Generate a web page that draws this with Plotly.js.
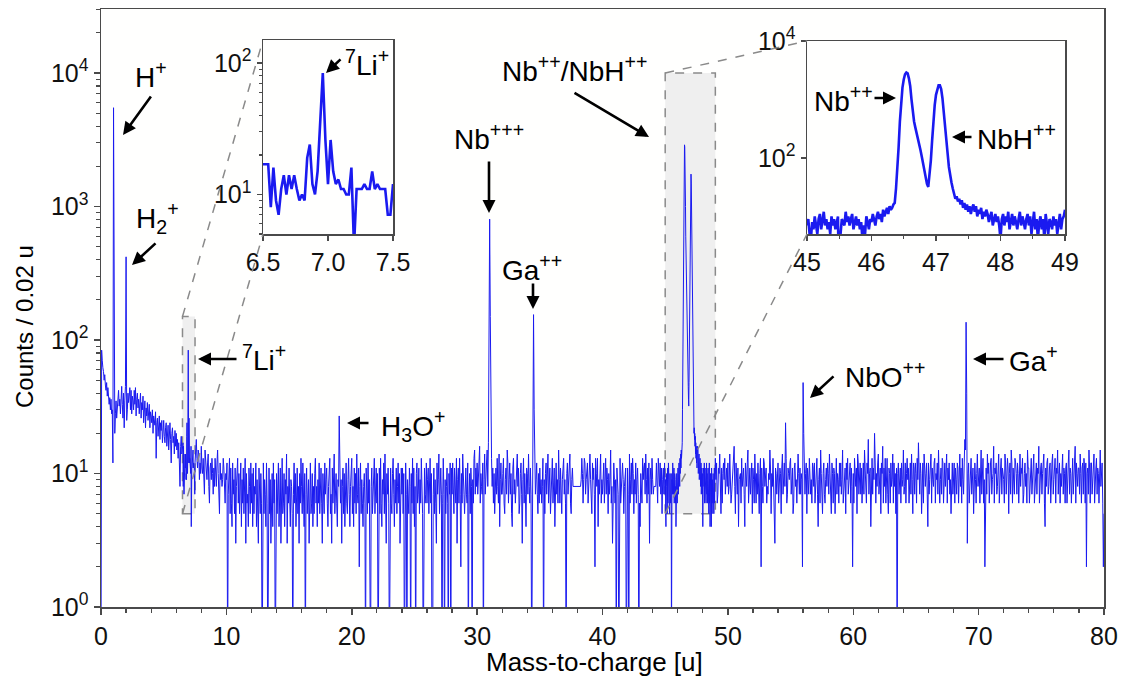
<!DOCTYPE html>
<html>
<head>
<meta charset="utf-8">
<script src="https://cdn.plot.ly/plotly-3.0.1.min.js"></script>
<style>html,body{margin:0;padding:0;background:#fff;}#chart{width:1127px;height:680px;}</style>
</head>
<body>
<div id="chart"></div>
<script>
// ---------------- DATA (counts per bin) ----------------
// Segment A: rows of 0.05-u bins, row k starts at m/z = k (0 .. 6.45)
const segARows = [
  [0, 84, 70, 62, 58, 50, 55, 46, 42, 48, 38, 44, 40, 33, 37, 30, 36, 28, 30, 12],
  [5500, 24, 20, 28, 35, 26, 30, 38, 42, 32, 36, 28, 38, 45, 33, 26, 40, 22, 35, 45],
  [420, 25, 30, 40, 34, 38, 44, 30, 42, 28, 38, 35, 30, 42, 33, 44, 27, 36, 40, 31],
  [36, 28, 33, 40, 26, 34, 30, 38, 24, 31, 35, 22, 31, 27, 34, 25, 30, 33, 22, 29],
  [27, 24, 30, 20, 27, 25, 23, 29, 13, 24, 26, 19, 23, 27, 18, 24, 21, 25, 17, 23],
  [25, 19, 17, 22, 24, 16, 20, 23, 15, 21, 24, 18, 12, 20, 22, 17, 19, 14, 21, 16],
  [20, 15, 18, 13, 17, 12, 8, 16, 19, 14]
];
// Li region (inset 1): m/z 6.50 - 7.50, 0.02-u bins
const liStart = 6.5, liStep = 0.02;
const liCounts = [
  17, 17, 17, 8, 16, 9, 7, 11, 14, 10,
  14, 11, 14, 11, 9, 10, 9, 19, 24, 12,
  10, 15, 35, 84, 26, 12, 26, 15, 12, 13,
  11, 11, 10, 10, 16, 4, 11, 11, 11, 12,
  11, 11, 15, 11, 12, 11, 11, 11, 7, 7,
  12
];
// Segment B: head = m/z 7.60 - 7.95, then rows starting at m/z 8, 9, ... 44 (0.05-u bins)
const segBHead = [18, 13, 11, 15, 14, 9, 12, 10];
const segBRows = [
  [16, 11, 10, 13, 8, 7, 15, 12, 10, 9, 12, 14, 8, 6, 11, 12, 9, 13, 10, 7],
  [11, 8, 13, 9, 8, 12, 15, 10, 7, 5, 12, 9, 10, 8, 9, 13, 11, 7, 6, 10],
  [9, 12, 0, 7, 10, 13, 5, 11, 6, 4, 12, 7, 9, 5, 11, 3, 8, 10, 13, 6],
  [10, 5, 7, 12, 4, 9, 6, 11, 5, 8, 13, 3, 10, 6, 7, 4, 11, 8, 5, 12],
  [6, 10, 4, 11, 5, 8, 7, 12, 4, 9, 6, 3, 11, 7, 5, 10, 6, 0, 8, 12],
  [5, 9, 7, 4, 12, 6, 0, 8, 11, 5, 9, 3, 7, 10, 4, 12, 6, 9, 0, 7],
  [10, 5, 8, 12, 4, 7, 11, 3, 8, 13, 5, 6, 10, 4, 9, 7, 14, 3, 8, 6],
  [11, 6, 4, 9, 8, 5, 0, 7, 12, 6, 10, 4, 7, 11, 5, 8, 3, 10, 6, 13],
  [8, 5, 12, 6, 4, 10, 0, 7, 11, 5, 8, 9, 3, 7, 12, 5, 6, 10, 4, 8],
  [5, 10, 13, 6, 8, 4, 9, 6, 12, 5, 7, 11, 6, 3, 10, 8, 5, 12, 7, 9],
  [11, 6, 4, 8, 10, 13, 5, 7, 3, 11, 6, 9, 14, 5, 7, 10, 6, 4, 9, 8],
  [27, 15, 6, 9, 3, 8, 11, 5, 10, 4, 7, 12, 6, 5, 9, 13, 7, 4, 8, 10],
  [13, 5, 8, 4, 11, 6, 10, 5, 14, 7, 6, 11, 2, 8, 12, 5, 9, 6, 4, 8],
  [10, 6, 0, 11, 7, 5, 12, 6, 9, 4, 0, 8, 11, 5, 7, 10, 13, 5, 8, 11],
  [6, 10, 0, 8, 11, 5, 13, 6, 4, 9, 7, 12, 5, 14, 6, 3, 10, 7, 11, 6],
  [0, 7, 11, 6, 5, 10, 13, 7, 4, 9, 6, 11, 5, 8, 12, 6, 10, 3, 7, 11],
  [7, 11, 5, 10, 0, 6, 12, 7, 0, 9, 6, 5, 11, 8, 0, 10, 6, 13, 5, 11],
  [4, 8, 0, 10, 12, 6, 7, 11, 5, 9, 6, 13, 7, 5, 0, 10, 11, 6, 7, 12],
  [6, 9, 11, 5, 7, 13, 6, 10, 0, 0, 7, 11, 5, 9, 6, 3, 12, 7, 9, 14],
  [5, 10, 11, 7, 0, 6, 13, 7, 0, 9, 5, 8, 11, 6, 0, 10, 7, 12, 0, 11],
  [7, 12, 9, 5, 11, 7, 6, 13, 3, 9, 11, 6, 13, 7, 2, 10, 6, 14, 11, 7],
  [5, 9, 11, 7, 6, 12, 0, 7, 10, 5, 11, 8, 0, 9, 6, 13, 15, 7, 11, 8],
  [12, 7, 9, 11, 16, 6, 10, 8, 7, 12, 0, 9, 14, 7, 11, 12, 15, 8, 17, 350],
  [805, 150, 25, 13, 8, 11, 6, 10, 5, 9, 11, 7, 13, 8, 6, 14, 4, 9, 12, 7],
  [7, 10, 13, 6, 5, 9, 11, 7, 15, 12, 6, 9, 12, 7, 10, 5, 4, 11, 13, 7],
  [9, 6, 8, 12, 14, 8, 11, 5, 6, 10, 12, 7, 3, 9, 13, 6, 10, 7, 4, 11],
  [10, 7, 14, 8, 6, 11, 7, 0, 9, 20, 155, 30, 13, 7, 9, 12, 7, 5, 10, 6],
  [11, 7, 9, 6, 8, 13, 0, 9, 5, 10, 12, 7, 9, 14, 6, 9, 11, 5, 8, 10],
  [13, 6, 8, 11, 4, 9, 12, 7, 9, 6, 15, 9, 6, 11, 7, 5, 9, 12, 13, 7],
  [9, 6, 0, 10, 12, 7, 9, 13, 14, 6, 5, 9, 11, 8, 8, 8, 8, 8, 8, 8],
  [8, 8, 8, 8, 8, 8, 9, 13, 10, 6, 9, 13, 12, 7, 9, 11, 12, 6, 8, 11],
  [14, 9, 7, 5, 12, 9, 11, 7, 2, 13, 10, 8, 13, 4, 9, 7, 12, 14, 6, 9],
  [7, 10, 12, 6, 9, 13, 7, 11, 9, 5, 10, 7, 9, 15, 6, 8, 3, 11, 12, 9],
  [6, 9, 0, 11, 9, 7, 0, 12, 13, 6, 8, 11, 12, 9, 5, 8, 10, 11, 0, 7],
  [11, 7, 0, 14, 6, 9, 12, 7, 13, 10, 5, 9, 7, 12, 6, 9, 11, 7, 0, 6],
  [4, 10, 7, 6, 13, 9, 11, 12, 7, 14, 9, 6, 11, 7, 12, 3, 9, 11, 7, 13],
  [9, 7, 8, 8, 8, 8, 12, 9, 6, 13, 10, 8, 12, 7, 11, 5, 9, 11, 7, 12]
];
// Nb++ / NbH++ region (inset 2): m/z 45.00 - 49.00, 0.02-u bins
const nbStart = 45.0, nbStep = 0.02;
const nbCounts = [
  7, 9, 5, 4, 8, 6, 10, 7, 5, 9,
  11, 6, 8, 12, 7, 9, 6, 8, 5, 10,
  7, 9, 6, 8, 10, 0, 5, 9, 8, 7,
  12, 8, 10, 7, 9, 11, 6, 8, 10, 7,
  9, 6, 8, 4, 7, 5, 10, 8, 6, 9,
  8, 11, 9, 7, 10, 12, 9, 11, 8, 13,
  10, 12, 14, 11, 15, 13, 14, 16, 17, 30,
  60, 150, 420, 900, 1600, 2200, 2700, 2900, 2800, 2300,
  1700, 1000, 600, 420, 330, 270, 210, 165, 135, 105,
  82, 62, 45, 36, 32, 48, 90, 200, 420, 800,
  1200, 1550, 1750, 1750, 1500, 1050, 650, 380, 220, 120,
  70, 48, 38, 30, 24, 20, 22, 18, 20, 16,
  19, 14, 17, 13, 16, 12, 15, 11, 14, 16,
  12, 15, 10, 13, 11, 14, 9, 12, 10, 13,
  11, 8, 10, 12, 7, 9, 11, 8, 10, 7,
  4, 9, 11, 7, 10, 8, 12, 6, 9, 11,
  7, 10, 8, 6, 9, 12, 7, 10, 8, 6,
  9, 11, 7, 10, 5, 8, 12, 6, 9, 4,
  8, 10, 6, 9, 4, 11, 7, 5, 9, 8,
  6, 10, 7, 9, 5, 8, 11, 6, 9, 10,
  13
];
// Segment C: head = m/z 49.05 - 49.95, rows starting at m/z 50 ... 79, tail at m/z 80
const segCHead = [9, 12, 6, 7, 11, 10, 14, 9, 5, 11, 6, 10, 12, 9, 13, 7, 10, 11, 8];
const segCRows = [
  [12, 7, 8, 14, 10, 6, 7, 9, 11, 12, 16, 8, 5, 12, 10, 7, 11, 4, 9, 10],
  [10, 6, 13, 8, 9, 11, 7, 4, 12, 9, 8, 12, 15, 6, 9, 11, 7, 10, 12, 5],
  [11, 9, 6, 14, 8, 6, 10, 7, 12, 9, 5, 10, 13, 2, 11, 8, 6, 13, 12, 8],
  [9, 11, 6, 8, 7, 10, 9, 15, 11, 5, 10, 8, 13, 9, 6, 3, 11, 10, 7, 12],
  [12, 6, 8, 11, 10, 5, 11, 14, 7, 10, 12, 8, 24, 13, 6, 7, 11, 10, 9, 12],
  [13, 7, 9, 11, 5, 6, 11, 12, 8, 9, 6, 12, 14, 10, 7, 11, 7, 10, 9, 2],
  [48, 20, 12, 7, 10, 12, 5, 11, 9, 7, 13, 10, 7, 9, 6, 12, 11, 8, 12, 6],
  [9, 11, 13, 7, 4, 9, 11, 6, 15, 10, 8, 5, 10, 12, 7, 6, 9, 11, 8, 12],
  [10, 7, 14, 9, 8, 5, 12, 10, 6, 11, 10, 5, 8, 13, 7, 10, 9, 6, 12, 8],
  [12, 7, 9, 15, 6, 7, 9, 11, 5, 12, 9, 13, 7, 8, 10, 12, 6, 11, 8, 2],
  [10, 6, 13, 9, 8, 11, 5, 14, 12, 7, 10, 12, 7, 11, 6, 10, 12, 7, 15, 11],
  [9, 6, 12, 10, 18, 7, 10, 11, 4, 12, 13, 7, 11, 9, 20, 12, 6, 10, 8, 12],
  [14, 7, 9, 11, 5, 12, 10, 16, 6, 11, 8, 13, 6, 9, 13, 7, 5, 11, 10, 6],
  [12, 8, 9, 14, 6, 12, 8, 10, 5, 11, 0, 10, 12, 7, 9, 11, 6, 12, 8, 9],
  [15, 7, 8, 12, 6, 10, 13, 9, 11, 6, 10, 12, 7, 14, 9, 5, 12, 11, 7, 12],
  [10, 6, 13, 9, 17, 11, 7, 12, 10, 5, 11, 12, 6, 14, 11, 8, 10, 12, 7, 4],
  [12, 7, 9, 11, 14, 6, 11, 9, 8, 12, 13, 6, 10, 9, 12, 7, 15, 11, 6, 9],
  [11, 7, 13, 12, 6, 11, 12, 8, 10, 14, 6, 11, 9, 12, 7, 9, 5, 10, 12, 7],
  [10, 12, 6, 11, 9, 7, 12, 11, 6, 10, 14, 8, 11, 6, 13, 9, 7, 12, 18, 15],
  [136, 40, 3, 10, 12, 6, 9, 10, 13, 7, 10, 11, 5, 10, 12, 9, 6, 10, 14, 8],
  [9, 11, 6, 10, 15, 7, 10, 13, 6, 9, 2, 10, 11, 7, 14, 10, 12, 6, 10, 12],
  [13, 7, 9, 10, 16, 6, 11, 10, 12, 7, 8, 10, 14, 6, 10, 11, 13, 7, 11, 10],
  [9, 6, 14, 12, 7, 10, 13, 11, 5, 10, 12, 7, 15, 12, 6, 11, 9, 7, 13, 12],
  [10, 7, 12, 10, 6, 12, 14, 8, 11, 10, 13, 6, 7, 10, 12, 8, 10, 6, 15, 11],
  [11, 6, 9, 10, 13, 7, 10, 12, 14, 6, 8, 10, 12, 7, 11, 10, 16, 6, 9, 11],
  [12, 7, 10, 12, 14, 6, 4, 11, 8, 12, 13, 7, 8, 11, 12, 6, 10, 12, 14, 7],
  [9, 11, 13, 6, 11, 10, 15, 7, 10, 12, 6, 10, 8, 11, 14, 7, 11, 10, 6, 11],
  [12, 6, 10, 12, 15, 7, 11, 10, 6, 12, 13, 7, 10, 12, 16, 6, 12, 10, 8, 11],
  [11, 7, 14, 10, 6, 11, 12, 7, 13, 11, 6, 12, 2, 10, 11, 7, 15, 11, 6, 12],
  [12, 7, 9, 11, 14, 6, 10, 11, 13, 7, 11, 10, 6, 12, 15, 8, 10, 12, 6, 2]
];
const segCTail = [5];

// Axis settings / tick labels
const mainXRange = [0, 80];
const mainYLogRange = [0, 4.48];
const inset1XRange = [6.5, 7.5];
const inset1YRange = [5, 150];
const inset2XRange = [45, 49];
const inset2YRange = [5, 10000];
const yTickVals = [1, 10, 100, 1000, 10000];
const yTickText = ['10<sup>0</sup>', '10<sup>1</sup>', '10<sup>2</sup>', '10<sup>3</sup>', '10<sup>4</sup>'];
const xTitle = 'Mass-to-charge [u]';
const yTitle = 'Counts / 0.02 u';

// Peak labels
const labels = {
  H: 'H<sup>+</sup>', H2: 'H<sub>2</sub><sup>+</sup>', Li: '<sup>7</sup>Li<sup>+</sup>',
  H3O: 'H<sub>3</sub>O<sup>+</sup>', Nb3: 'Nb<sup>+++</sup>', Ga2: 'Ga<sup>++</sup>',
  Nb2: 'Nb<sup>++</sup>/NbH<sup>++</sup>', NbO: 'NbO<sup>++</sup>', Ga1: 'Ga<sup>+</sup>',
  Nb2only: 'Nb<sup>++</sup>', NbH: 'NbH<sup>++</sup>'
};

// ---------------- BUILD ----------------
const X = [], Y = [];
function addRun(start, step, arr) {
  arr.forEach((v, i) => { X.push(+(start + i * step).toFixed(3)); Y.push(v); });
}
segARows.forEach((row, k) => addRun(k, 0.05, row));
addRun(liStart, liStep, liCounts);
addRun(7.6, 0.05, segBHead);
segBRows.forEach((row, k) => addRun(8 + k, 0.05, row));
addRun(nbStart, nbStep, nbCounts);
addRun(49.05, 0.05, segCHead);
segCRows.forEach((row, k) => addRun(50 + k, 0.05, row));
addRun(80, 0.05, segCTail);

const show = v => (v > 0 ? v : 0.3); // zero counts drop below the log axis
const liX = liCounts.map((_, i) => +(liStart + i * liStep).toFixed(3));
const nbX = nbCounts.map((_, i) => +(nbStart + i * nbStep).toFixed(3));

const BLUE = 'rgb(26,26,240)';
const AX = '#4a4a4a';
const FONT = 'Liberation Sans, Arial, sans-serif';

// plot area in pixels
const PL = 101, PR = 1104, PT = 9, PB = 607;
const fx = x => (x - PL) / (PR - PL);
const fy = y => (PB - y) / (PB - PT);
const in1 = { x0: 263, x1: 393, y0: 40, y1: 234 };
const in2 = { x0: 807, x1: 1065, y0: 41, y1: 234 };

function minorLog(lo, hi) {
  const out = [];
  for (let e = lo; e <= hi; e++) for (let m = 2; m <= 9; m++) out.push(m * Math.pow(10, e));
  return out;
}

const traces = [
  { x: X, y: Y.map(show), type: 'scatter', mode: 'lines', line: { color: BLUE, width: 1 }, xaxis: 'x', yaxis: 'y', hoverinfo: 'skip' },
  { x: liX, y: liCounts.map(show), type: 'scatter', mode: 'lines', line: { color: BLUE, width: 2.6 }, xaxis: 'x2', yaxis: 'y2', hoverinfo: 'skip' },
  { x: nbX, y: nbCounts.map(show), type: 'scatter', mode: 'lines', line: { color: BLUE, width: 2.6 }, xaxis: 'x3', yaxis: 'y3', hoverinfo: 'skip' }
];

const axBase = {
  showline: true, linecolor: AX, linewidth: 1.5, mirror: true,
  ticks: 'outside', ticklen: 6, tickwidth: 1.5, tickcolor: AX,
  showgrid: false, zeroline: false,
  tickfont: { family: FONT, size: 25, color: '#111' }
};

const lg = Math.log10;
const boxShape = (xr, yr) => ({
  type: 'rect', xref: 'x', yref: 'y', x0: xr[0], x1: xr[1], y0: yr[0], y1: yr[1],
  fillcolor: '#efefef', line: { color: '#8a8a8a', width: 1.5, dash: 'dash' }, layer: 'below'
});
const pyMain = v => (lg(v) - mainYLogRange[0]) / (mainYLogRange[1] - mainYLogRange[0]);
const pxMain = v => (v - mainXRange[0]) / (mainXRange[1] - mainXRange[0]);
const conn = (x0, y0, x1, y1) => ({
  type: 'line', xref: 'paper', yref: 'paper', x0, y0, x1, y1,
  line: { color: '#8a8a8a', width: 1.5, dash: 'dash' }, layer: 'above'
});

const shapes = [
  boxShape(inset1XRange, inset1YRange),
  boxShape(inset2XRange, inset2YRange),
  conn(pxMain(inset1XRange[0]), pyMain(inset1YRange[1]), fx(in1.x0), fy(in1.y0)),
  conn(pxMain(inset1XRange[0]), pyMain(inset1YRange[0]), fx(in1.x0), fy(in1.y1)),
  conn(pxMain(inset2XRange[0]), pyMain(inset2YRange[1]), fx(in2.x0), fy(in2.y0)),
  conn(pxMain(inset2XRange[0]), pyMain(inset2YRange[0]), fx(in2.x0), fy(in2.y1))
];

const annotations = [];
function label(text, cx, cy, size, angle) {
  annotations.push({ xref: 'paper', yref: 'paper', x: fx(cx), y: fy(cy), text, showarrow: false,
    xanchor: 'center', yanchor: 'middle', textangle: angle || 0,
    font: { family: FONT, size: size || 28, color: '#000' } });
}
function arrow(tx, ty, hx, hy) {
  annotations.push({ xref: 'paper', yref: 'paper', x: fx(hx), y: fy(hy), ax: tx - hx, ay: ty - hy,
    text: '', showarrow: true, arrowhead: 2, arrowsize: 1, arrowwidth: 2.6, arrowcolor: '#000',
    standoff: 0, startstandoff: 0 });
}
label(labels.H, 151, 75); arrow(152, 95, 123, 135);
label(labels.H2, 157, 218); arrow(157, 242, 132, 265);
label(labels.Li, 264, 358); arrow(238, 359, 198, 359);
label(labels.H3O, 413, 426); arrow(370, 423, 347, 423);
label(labels.Nb3, 489, 137); arrow(489, 160, 489, 213);
label(labels.Ga2, 532, 268); arrow(533, 282, 533, 309);
label(labels.Nb2, 574, 69); arrow(573, 92, 649, 137);
label(labels.NbO, 885, 375); arrow(835, 375, 810, 398);
label(labels.Ga1, 1033, 359); arrow(1005, 359, 973, 359);
label(labels.Li, 367, 63); arrow(342, 58, 326, 73);
label(labels.Nb2only, 843, 99); arrow(873, 98, 896, 98);
label(labels.NbH, 1016, 137); arrow(973, 137, 952, 137);
// axis titles
label(xTitle, 594, 662, 26);
label(yTitle, 24, 327, 24, -90);

const layout = {
  width: 1127, height: 680,
  margin: { l: PL, r: 1127 - PR, t: PT, b: 680 - PB },
  paper_bgcolor: '#ffffff', plot_bgcolor: '#fffffe',
  showlegend: false,
  font: { family: FONT, size: 25, color: '#111' },
  xaxis: Object.assign({}, axBase, {
    domain: [0, 1], anchor: 'y', range: mainXRange, tickmode: 'linear', tick0: 0, dtick: 10,
    minor: { dtick: 2, ticks: 'outside', ticklen: 4, tickwidth: 1.2, tickcolor: AX }
  }),
  yaxis: Object.assign({}, axBase, {
    domain: [0, 1], anchor: 'x', type: 'log', range: mainYLogRange,
    tickmode: 'array', tickvals: yTickVals, ticktext: yTickText,
    minor: { tickmode: 'array', tickvals: minorLog(0, 4), ticks: 'outside', ticklen: 4, tickwidth: 1.2, tickcolor: AX }
  }),
  xaxis2: Object.assign({}, axBase, {
    domain: [fx(in1.x0), fx(in1.x1)], anchor: 'y2', range: inset1XRange,
    tickmode: 'array', tickvals: [6.5, 7.0, 7.5], ticktext: ['6.5', '7.0', '7.5'], ticklen: 5
  }),
  yaxis2: Object.assign({}, axBase, {
    domain: [fy(in1.y1), fy(in1.y0)], anchor: 'x2', type: 'log', range: [lg(inset1YRange[0]), lg(inset1YRange[1])],
    tickmode: 'array', tickvals: [10, 100], ticktext: ['10<sup>1</sup>', '10<sup>2</sup>'], ticklen: 5,
    minor: { tickmode: 'array', tickvals: minorLog(0, 2), ticks: 'outside', ticklen: 3, tickwidth: 1.2, tickcolor: AX }
  }),
  xaxis3: Object.assign({}, axBase, {
    domain: [fx(in2.x0), fx(in2.x1)], anchor: 'y3', range: inset2XRange, tickmode: 'linear', tick0: 45, dtick: 1, ticklen: 5,
    minor: { dtick: 0.5, ticks: 'outside', ticklen: 3, tickwidth: 1.2, tickcolor: AX }
  }),
  yaxis3: Object.assign({}, axBase, {
    domain: [fy(in2.y1), fy(in2.y0)], anchor: 'x3', type: 'log', range: [lg(inset2YRange[0]), lg(inset2YRange[1])],
    tickmode: 'array', tickvals: [100, 10000], ticktext: ['10<sup>2</sup>', '10<sup>4</sup>'], ticklen: 5
  }),
  shapes, annotations
};

Plotly.newPlot('chart', traces, layout, { staticPlot: true, displayModeBar: false });
</script>
</body>
</html>
